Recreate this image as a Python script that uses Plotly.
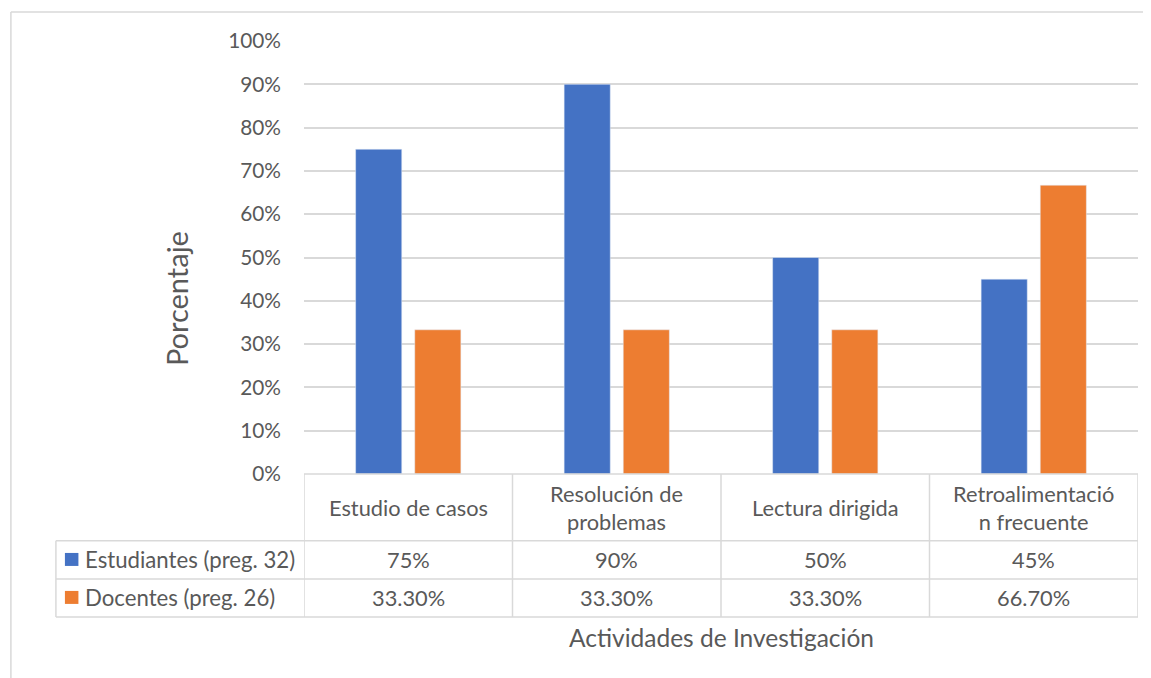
import plotly.graph_objects as go

# ---------------- data ----------------
categories = ["Estudio de casos", "Resolución de problemas", "Lectura dirigida", "Retroalimentación frecuente"]
category_labels = ["Estudio de casos", "Resolución de<br>problemas", "Lectura dirigida", "Retroalimentació<br>n frecuente"]
series_names = ["Estudiantes (preg. 32)", "Docentes (preg. 26)"]
estudiantes = [0.75, 0.90, 0.50, 0.45]
docentes = [0.333, 0.333, 0.333, 0.667]
estudiantes_labels = [f"{v*100:.0f}%" for v in estudiantes]
docentes_labels = [f"{v*100:.2f}%" for v in docentes]
x_title = "Actividades de Investigación"
y_title = "Porcentaje"

# ---------------- style / layout ----------------
OFF = 8  # page body margin
PW, PH = 1151, 678
W, H = PW - OFF, PH - OFF
# plot area in page pixels
L, R, T, B = 304, 1137.7, 40.7, 474.0
BLUE, ORANGE = "#4472C4", "#ED7D31"
TXT = "#595959"
GRID = "#D9D9D9"
FONT = "Lato"
LW = 1.5

def px_x(p):
    return (p - L) / (R - L)

def px_y(p):
    return (B - p) / (B - T)

fig = go.Figure()
fig.add_trace(go.Bar(x=categories, y=estudiantes, name=series_names[0], marker_color=BLUE,
                     showlegend=False, hoverinfo="skip"))
fig.add_trace(go.Bar(x=categories, y=docentes, name=series_names[1], marker_color=ORANGE,
                     showlegend=False, hoverinfo="skip"))

shapes = []
ann = []

def hline(y, x0, x1, color=GRID, w=LW):
    shapes.append(dict(type="line", xref="paper", yref="paper", x0=px_x(x0), x1=px_x(x1),
                       y0=px_y(y), y1=px_y(y), line=dict(color=color, width=w), layer="above"))

def vline_data(xd, y0, y1, color=GRID, w=LW):
    shapes.append(dict(type="line", xref="x", yref="paper", x0=xd, x1=xd,
                       y0=px_y(y0), y1=px_y(y1), line=dict(color=color, width=w), layer="above"))

def vline_px(xp, y0, y1, color=GRID, w=LW):
    shapes.append(dict(type="line", xref="paper", yref="paper", x0=px_x(xp), x1=px_x(xp),
                       y0=px_y(y0), y1=px_y(y1), line=dict(color=color, width=w), layer="above"))

# table rows
r0, r1, r2, r3 = 474.0, 540.7, 579.0, 617.0
TL = 56
hline(r0, L, R)
for ry in (r1, r2, r3):
    hline(ry, TL, R)
vline_px(TL, r1, r3)
n = len(categories)
for i in range(n + 1):
    vline_data(i - 0.5, r0, r3)

# outer chart border
shapes.append(dict(type="line", xref="paper", yref="paper", x0=px_x(11), x1=px_x(11),
                   y0=px_y(11.7), y1=px_y(PH + 5), line=dict(color=GRID, width=LW)))
shapes.append(dict(type="line", xref="paper", yref="paper", x0=px_x(11), x1=px_x(PW + 5),
                   y0=px_y(11.7), y1=px_y(11.7), line=dict(color=GRID, width=LW)))

# legend keys
for (y0, y1), col in (((553, 566), BLUE), ((591, 604), ORANGE)):
    shapes.append(dict(type="rect", xref="paper", yref="paper", x0=px_x(65), x1=px_x(78.5),
                       y0=px_y(y1), y1=px_y(y0), fillcolor=col, line=dict(width=0)))

tfont = dict(family=FONT, size=21.8, color=TXT)
lfont = dict(family=FONT, size=22.2, color=TXT)
# table text
for i, c in enumerate(category_labels):
    ann.append(dict(xref="x", yref="paper", x=i, y=px_y((r0 + r1) / 2), text=c, showarrow=False,
                    xanchor="center", yanchor="middle", font=tfont))
    ann.append(dict(xref="x", yref="paper", x=i, y=px_y((r1 + r2) / 2), text=estudiantes_labels[i],
                    showarrow=False, xanchor="center", yanchor="middle", font=tfont))
    ann.append(dict(xref="x", yref="paper", x=i, y=px_y((r2 + r3) / 2), text=docentes_labels[i],
                    showarrow=False, xanchor="center", yanchor="middle", font=tfont))
for name, (ya, yb) in zip(series_names, ((r1, r2), (r2, r3))):
    ann.append(dict(xref="paper", yref="paper", x=px_x(83), y=px_y((ya + yb) / 2), text=name,
                    showarrow=False, xanchor="left", yanchor="middle", font=lfont))

# axis titles
ann.append(dict(xref="paper", yref="paper", x=0.5, y=px_y(638), text=x_title, showarrow=False,
                xanchor="center", yanchor="middle", font=dict(family=FONT, size=24.5, color=TXT)))
ann.append(dict(xref="paper", yref="paper", x=px_x(176), y=px_y(298), text=y_title, showarrow=False,
                textangle=-90, xanchor="center", yanchor="middle",
                font=dict(family=FONT, size=29, color=TXT)))

fig.update_layout(
    width=W, height=H,
    margin=dict(l=L - OFF, r=PW - R, t=T - OFF, b=PH - B, pad=0),
    paper_bgcolor="white", plot_bgcolor="white",
    barmode="group", bargap=0.433, bargroupgap=0.22,
    shapes=shapes, annotations=ann,
    xaxis=dict(range=[-0.5, n - 0.5], showticklabels=False, showgrid=False, zeroline=False,
               showline=False, ticks=""),
    yaxis=dict(range=[0, 1], dtick=0.1, tickformat=".0%", showgrid=True, gridcolor=GRID,
               gridwidth=LW, zeroline=False, showline=False, ticks="",
               tickfont=dict(family=FONT, size=20.8, color=TXT), ticklabelstandoff=22),
)

fig.write_html("out.html")
